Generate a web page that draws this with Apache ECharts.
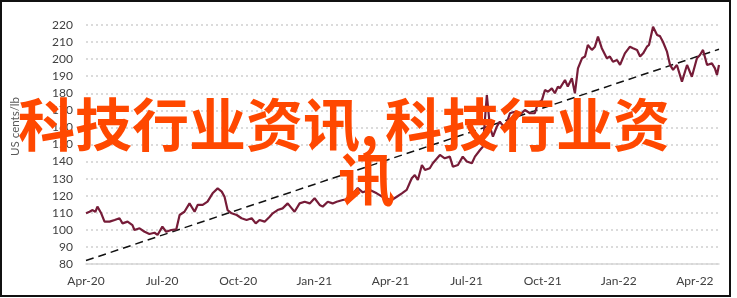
<!DOCTYPE html>
<html>
<head>
<meta charset="utf-8">
<script src="https://cdn.jsdelivr.net/npm/echarts@6/dist/echarts.min.js"></script>
<style>
  html, body { margin: 0; padding: 0; background: #fff; }
  #wrap { position: relative; width: 737px; height: 298px; }
  #chart { position: absolute; left: 0; top: 0; width: 737px; height: 298px; }
  #frame { position: absolute; left: 0; top: 0; width: 731px; height: 297px; box-sizing: border-box; border: 2px solid #111; pointer-events: none; }
</style>
</head>
<body>
<div id="wrap"><div id="chart"></div><div id="frame"></div></div>
<script>
// x positions: months since Apr-2020
const months = [0.00,0.14,0.26,0.37,0.45,0.60,0.73,0.93,1.13,1.32,1.44,1.64,1.83,1.91,2.11,2.31,2.50,2.70,2.82,3.01,3.16,3.36,3.56,3.69,3.88,4.08,4.28,4.40,4.60,4.79,4.99,5.19,5.35,5.46,5.58,5.74,5.94,6.13,6.33,6.53,6.69,6.84,7.04,7.24,7.36,7.55,7.75,7.95,8.11,8.22,8.42,8.62,8.82,9.01,9.21,9.33,9.53,9.72,9.88,10.12,10.32,10.51,10.71,10.91,11.19,11.46,11.78,12.05,12.25,12.45,12.64,12.84,12.96,13.08,13.24,13.36,13.55,13.67,13.95,14.14,14.34,14.46,14.66,14.85,15.01,15.21,15.33,15.53,15.64,15.80,15.92,16.04,16.19,16.31,16.51,16.71,16.90,17.10,17.30,17.50,17.69,17.81,17.97,18.09,18.21,18.36,18.48,18.60,18.68,18.88,18.99,19.15,19.27,19.39,19.55,19.67,19.78,19.94,20.06,20.18,20.33,20.53,20.65,20.77,20.93,21.05,21.24,21.44,21.56,21.72,21.84,21.96,22.11,22.19,22.35,22.51,22.62,22.74,22.90,23.02,23.14,23.29,23.49,23.69,23.88,24.08,24.20,24.32,24.48,24.67,24.79,24.87,24.95];
const price = [109.7,110.6,111.6,110.5,113.6,109.7,104.8,104.8,105.8,106.8,103.8,104.8,102.8,99.9,100.9,98.9,97.6,98.3,97.0,101.9,98.9,99.9,100.3,108.7,110.6,115.5,110.6,114.6,114.6,116.5,121.4,124.3,122.4,119.4,111.6,109.7,108.7,106.8,105.8,106.8,103.8,105.8,104.8,107.7,109.7,111.6,112.6,115.5,112.6,110.6,115.5,116.5,115.5,118.5,114.6,113.6,116.5,115.5,116.5,117.5,118.0,121.0,124.5,122.0,123.4,121.4,118.5,117.5,119.4,121.4,123.4,130.2,132.1,129.2,138.0,135.1,136.1,139.0,143.9,141.9,142.9,137.0,138.0,142.9,140.0,139.0,142.9,146.8,148.7,179.0,160.4,154.6,160.4,163.4,159.5,168.3,169.2,167.3,170.2,168.3,168.3,174.1,176.0,181.9,180.9,182.9,180.0,183.9,183.0,187.8,184.0,188.8,180.0,194.6,200.5,201.5,208.3,205.4,207.3,213.2,206.4,200.5,201.5,198.5,199.5,196.6,203.4,207.3,206.4,205.4,201.5,203.4,207.3,208.3,219.0,214.1,213.5,210.2,204.4,196.6,193.7,196.6,186.8,196.6,189.7,200.5,202.4,205.4,196.6,197.5,194.6,190.7,196.6];
const trendMonths = [0, 24.95];
const trendValues = [82.0, 205.8];
const xTickLabels = ['Apr-20','Jul-20','Oct-20','Jan-21','Apr-21','Jul-21','Oct-21','Jan-22','Apr-22'];
const yAxisName = 'US cents/lb';
const overlayPartA = '科技行业资讯,';
const overlayPartB = '科技行业资';
const overlayPartC = '讯';

const chart = echarts.init(document.getElementById('chart'), null, { renderer: 'canvas' });
const font = 'Lato, "Open Sans", sans-serif';
const bigFont = 'bold 57px "Noto Sans CJK SC"';
chart.setOption({
  animation: false,
  backgroundColor: '#fff',
  grid: { left: 86, right: 18, top: 25, bottom: 34 },
  xAxis: {
    type: 'value', min: 0, max: 24.95, interval: 3,
    axisLine: { show: true, lineStyle: { color: '#d6d6d6', width: 1.5 } },
    axisTick: { show: false },
    splitLine: { show: false },
    axisLabel: {
      color: '#404040', fontSize: 12, fontFamily: font, margin: 11,
      showMaxLabel: false,
      formatter: v => { const i = Math.round(v / 3); return (Math.abs(v - i * 3) < 1e-6 && i < xTickLabels.length) ? xTickLabels[i] : ''; }
    }
  },
  yAxis: {
    type: 'value', min: 80, max: 220, interval: 10,
    axisLine: { show: false }, axisTick: { show: false },
    splitLine: { show: true, lineStyle: { color: '#cfcfcf', width: 1.5, type: [2, 3] } },
    axisLabel: { color: '#404040', fontSize: 12, fontFamily: font, margin: 13 }
  },
  graphic: [
    { type: 'text', left: 9, top: 97, rotation: Math.PI / 2,
      style: { text: yAxisName, fill: '#595959', font: '11.5px ' + font } },
    { type: 'text', x: 18, y: 96, z: 100, style: { text: overlayPartA, fill: '#ff4800', font: bigFont } },
    { type: 'text', x: 385, y: 96, z: 100, style: { text: overlayPartB, fill: '#ff4800', font: bigFont } },
    { type: 'text', x: 338, y: 151, z: 100, style: { text: overlayPartC, fill: '#ff4800', font: bigFont } }
  ],
  series: [
    { type: 'line', data: trendMonths.map((m, i) => [m, trendValues[i]]), symbol: 'none',
      lineStyle: { color: '#111', width: 1.5, type: [8, 5] }, z: 2 },
    { type: 'line', data: months.map((m, i) => [m, price[i]]), symbol: 'none',
      lineStyle: { color: '#761c38', width: 2.2 }, z: 3 }
  ]
});
</script>
</body>
</html>
